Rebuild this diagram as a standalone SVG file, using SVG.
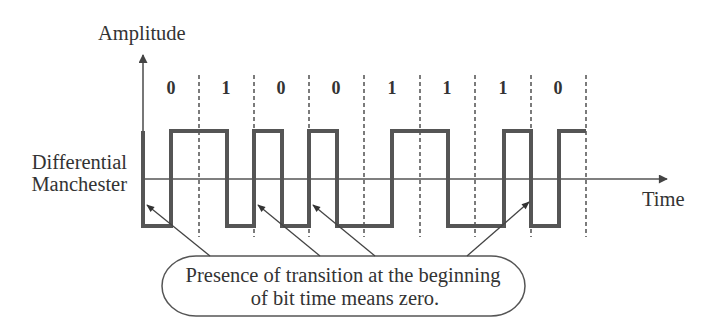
<svg xmlns="http://www.w3.org/2000/svg" width="707" height="331" viewBox="0 0 707 331">
<style>
text{font-family:"Liberation Serif","Times New Roman",serif;fill:#333}
.lbl{font-size:20.5px}
.bit{font-size:18px;font-weight:bold;text-anchor:middle}
.axis{stroke:#555;stroke-width:1.6;fill:none}
.dash{stroke:#444;stroke-width:1.4;stroke-dasharray:4 3;fill:none}
.wave{stroke:#555;stroke-width:4;fill:none;stroke-linejoin:miter}
.ptr{stroke:#444;stroke-width:1.3;fill:none}
</style>
<defs>
<marker id="ah" viewBox="0 0 10 10" refX="9" refY="5" markerWidth="10" markerHeight="8" markerUnits="userSpaceOnUse" orient="auto">
<path d="M0,1 L10,5 L0,9 Z" fill="#333"/>
</marker>
<marker id="axh" viewBox="0 0 10 10" refX="9" refY="5" markerWidth="13" markerHeight="9" markerUnits="userSpaceOnUse" orient="auto">
<path d="M0,0 L10,5 L0,10 Z" fill="#444"/>
</marker>
</defs>
<rect width="707" height="331" fill="#fff"/>
<g id="axes">
<line class="axis" x1="143" y1="228" x2="143" y2="55" marker-end="url(#axh)"/>
<line class="axis" x1="143" y1="179" x2="667" y2="179" marker-end="url(#axh)"/>
<text class="lbl" x="98" y="40">Amplitude</text>
<text class="lbl" x="642" y="206">Time</text>
<text class="lbl" x="127" y="169" text-anchor="end">Differential</text>
<text class="lbl" x="127" y="191" text-anchor="end">Manchester</text>
</g>
<g id="bit-boundaries">
<line class="dash" x1="199" y1="75" x2="199" y2="237"/>
<line class="dash" x1="254" y1="75" x2="254" y2="237"/>
<line class="dash" x1="309" y1="75" x2="309" y2="237"/>
<line class="dash" x1="364" y1="75" x2="364" y2="237"/>
<line class="dash" x1="420" y1="75" x2="420" y2="237"/>
<line class="dash" x1="475" y1="75" x2="475" y2="237"/>
<line class="dash" x1="531" y1="75" x2="531" y2="237"/>
<line class="dash" x1="586" y1="75" x2="586" y2="237"/>
</g>
<g id="bits">
<text class="bit" x="171" y="94">0</text>
<text class="bit" x="226" y="94">1</text>
<text class="bit" x="281" y="94">0</text>
<text class="bit" x="336" y="94">0</text>
<text class="bit" x="392" y="94">1</text>
<text class="bit" x="447" y="94">1</text>
<text class="bit" x="503" y="94">1</text>
<text class="bit" x="558" y="94">0</text>
</g>
<g id="signal">
<path class="wave" d="M143,131 V226 H171 V131 H227 V226 H254 V131 H282 V226 H309 V131 H337 V226 H392 V131 H448 V226 H504 V131 H531 V226 H559 V131 H586"/>
</g>
<g id="callout">
<rect x="162" y="256" width="363" height="60" rx="34" ry="30" fill="#fff" stroke="#555" stroke-width="1.5"/>
<text class="lbl" x="343" y="282" text-anchor="middle">Presence of transition at the beginning</text>
<text class="lbl" x="345" y="305" text-anchor="middle">of bit time means zero.</text>
</g>
<g id="connectors">
<line class="ptr" x1="210" y1="256" x2="147" y2="205" marker-end="url(#ah)"/>
<line class="ptr" x1="320" y1="256" x2="258" y2="205" marker-end="url(#ah)"/>
<line class="ptr" x1="375" y1="256" x2="313" y2="205" marker-end="url(#ah)"/>
<line class="ptr" x1="467" y1="256" x2="529" y2="202" marker-end="url(#ah)"/>
</g>
</svg>
